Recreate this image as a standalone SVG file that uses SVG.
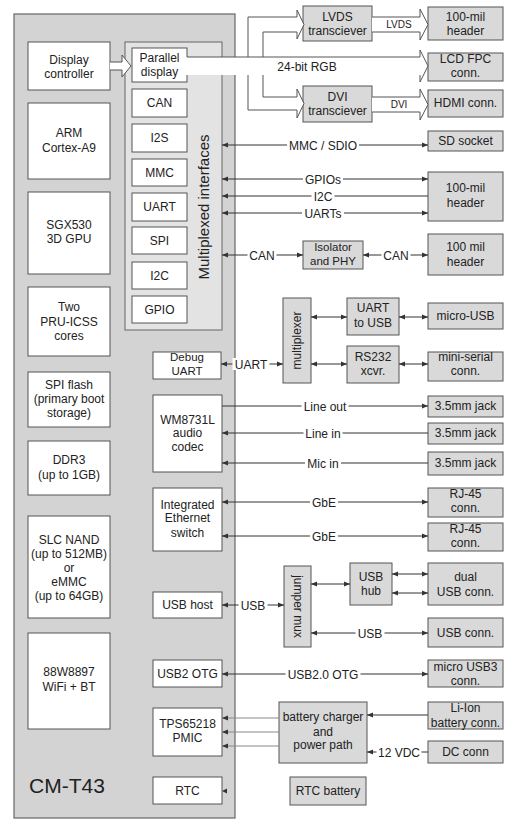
<svg xmlns="http://www.w3.org/2000/svg" width="525" height="839" viewBox="0 0 525 839">
<style>
.panel{fill:#d3d3d3;stroke:#666;stroke-width:1.2}
.mux{fill:#e3e3e3;stroke:#666;stroke-width:1}
.wb{fill:#fff;stroke:#555;stroke-width:1}
.gb{fill:#d9d9d9;stroke:#555;stroke-width:1}
text{font-family:"Liberation Sans",Arial,sans-serif;font-size:12px;fill:#222;text-anchor:middle}
.s{font-size:11.5px}
.lbl{font-size:12px}
.bg{fill:#fff;stroke:none}
.c{stroke:#333;stroke-width:1;fill:none}
.g{stroke:#888}
.bus{fill:#fff;stroke:none}
.busl{fill:none;stroke:#555;stroke-width:1}
</style>
<defs>
<marker id="ah" viewBox="0 0 6 6" refX="6" refY="3" markerWidth="6" markerHeight="6" markerUnits="userSpaceOnUse" orient="auto-start-reverse"><path d="M0,0.6 L6,3 L0,5.4z" fill="#333"/></marker>
</defs>
<rect width="525" height="839" fill="#fff"/>

<g id="cm-t43"><rect class="panel" x="14" y="14" width="221" height="804"/><text x="67" y="793" style="font-size:21px">CM-T43</text></g>
<g id="mux-panel"><rect class="mux" x="125" y="42" width="97" height="288"/><text transform="translate(209,207) rotate(-90)" style="font-size:15px">Multiplexed interfaces</text></g>

<g id="display-controller"><rect class="wb" x="28" y="42" width="82" height="48"/><text x="69" y="64">Display</text><text x="69" y="78">controller</text></g>
<g id="arm"><rect class="wb" x="28" y="103" width="82" height="76"/><text x="69" y="137">ARM</text><text x="69" y="152">Cortex-A9</text></g>
<g id="sgx"><rect class="wb" x="28" y="192" width="82" height="82"/><text x="69" y="229">SGX530</text><text x="69" y="243">3D GPU</text></g>
<g id="pru"><rect class="wb" x="28" y="287" width="82" height="69"/><text x="69" y="311">Two</text><text x="69" y="326">PRU-ICSS</text><text x="69" y="340">cores</text></g>
<g id="spi-flash"><rect class="wb" x="28" y="372" width="82" height="55"/><text x="69" y="389">SPI flash</text><text x="69" y="403">(primary boot</text><text x="69" y="417">storage)</text></g>
<g id="ddr3"><rect class="wb" x="28" y="441" width="82" height="54"/><text x="69" y="464">DDR3</text><text x="69" y="479">(up to 1GB)</text></g>
<g id="nand"><rect class="wb" x="28" y="516" width="82" height="102"/><text x="69" y="544">SLC NAND</text><text x="69" y="558">(up to 512MB)</text><text x="69" y="572">or</text><text x="69" y="586">eMMC</text><text x="69" y="600">(up to 64GB)</text></g>
<g id="wifi"><rect class="wb" x="28" y="633" width="82" height="96"/><text x="69" y="676">88W8897</text><text x="69" y="691">WiFi + BT</text></g>

<g id="parallel-display"><rect class="wb" x="132" y="48" width="55" height="34"/><text x="159.5" y="62">Parallel</text><text x="159.5" y="76">display</text></g>
<g id="can"><rect class="wb" x="132" y="89" width="55" height="28"/><text x="159.5" y="107">CAN</text></g>
<g id="i2s"><rect class="wb" x="132" y="124" width="55" height="28"/><text x="159.5" y="142">I2S</text></g>
<g id="mmc"><rect class="wb" x="132" y="159" width="55" height="27"/><text x="159.5" y="177">MMC</text></g>
<g id="uart"><rect class="wb" x="132" y="193" width="55" height="28"/><text x="159.5" y="211">UART</text></g>
<g id="spi"><rect class="wb" x="132" y="227" width="55" height="27"/><text x="159.5" y="245">SPI</text></g>
<g id="i2c"><rect class="wb" x="132" y="262" width="55" height="27"/><text x="159.5" y="280">I2C</text></g>
<g id="gpio"><rect class="wb" x="132" y="296" width="55" height="27"/><text x="159.5" y="314">GPIO</text></g>

<g id="debug-uart"><rect class="wb" x="153" y="352" width="68" height="27"/><text class="s" x="187" y="361">Debug</text><text class="s" x="187" y="375">UART</text></g>
<g id="codec"><rect class="wb" x="153" y="395" width="69" height="77"/><text x="187.5" y="424">WM8731L</text><text x="187.5" y="437">audio</text><text x="187.5" y="451">codec</text></g>
<g id="eth-switch"><rect class="wb" x="153" y="488" width="69" height="63"/><text x="187.5" y="509">Integrated</text><text x="187.5" y="522">Ethernet</text><text x="187.5" y="537">switch</text></g>
<g id="usb-host"><rect class="wb" x="153" y="592" width="69" height="26"/><text x="187.5" y="609">USB host</text></g>
<g id="usb2-otg"><rect class="wb" x="153" y="660" width="69" height="27"/><text x="187.5" y="678">USB2 OTG</text></g>
<g id="pmic"><rect class="wb" x="153" y="708" width="69" height="48"/><text x="187.5" y="728">TPS65218</text><text x="187.5" y="742">PMIC</text></g>
<g id="rtc"><rect class="wb" x="153" y="777" width="69" height="27"/><text x="187.5" y="795">RTC</text></g>

<g id="lvds-tx"><rect class="gb" x="303" y="6" width="69" height="35"/><text x="337.5" y="21">LVDS</text><text x="337.5" y="35">transciever</text></g>
<g id="dvi-tx"><rect class="gb" x="303" y="86" width="69" height="36"/><text x="337.5" y="101">DVI</text><text x="337.5" y="115">transciever</text></g>
<g id="isolator"><rect class="gb" x="303" y="241" width="60" height="28"/><text class="s" x="333" y="251">Isolator</text><text class="s" x="333" y="265">and PHY</text></g>
<g id="multiplexer"><rect class="gb" x="283" y="298" width="28" height="85"/><text transform="translate(301,340.5) rotate(-90)">multiplexer</text></g>
<g id="uart-usb"><rect class="gb" x="347" y="298" width="52" height="37"/><text x="373" y="312">UART</text><text x="373" y="327">to USB</text></g>
<g id="rs232"><rect class="gb" x="347" y="346" width="52" height="37"/><text x="373" y="361">RS232</text><text x="373" y="375">xcvr.</text></g>
<g id="jumper-mux"><rect class="gb" x="284" y="566" width="27" height="81"/><text transform="translate(294,606.5) rotate(90)">jumper mux</text></g>
<g id="usb-hub"><rect class="gb" x="350" y="563" width="42" height="42"/><text x="371" y="581">USB</text><text x="371" y="595">hub</text></g>
<g id="charger"><rect class="gb" x="279" y="702" width="88" height="61"/><text x="323" y="721">battery charger</text><text x="323" y="736">and</text><text x="323" y="749">power path</text></g>
<g id="rtc-battery"><rect class="gb" x="290" y="777" width="76" height="28"/><text x="328" y="795">RTC battery</text></g>

<g id="hdr-lvds"><rect class="gb" x="428" y="7" width="75" height="33"/><text x="465.5" y="21">100-mil</text><text x="465.5" y="35">header</text></g>
<g id="lcd-fpc"><rect class="gb" x="428" y="53" width="75" height="28"/><text x="465.5" y="63">LCD FPC</text><text x="465.5" y="77">conn.</text></g>
<g id="hdmi"><rect class="gb" x="428" y="90" width="75" height="27"/><text x="465.5" y="107">HDMI conn.</text></g>
<g id="sd-socket"><rect class="gb" x="428" y="131" width="75" height="20"/><text x="465.5" y="145">SD socket</text></g>
<g id="hdr-gpio"><rect class="gb" x="428" y="172" width="75" height="49"/><text x="465.5" y="192">100-mil</text><text x="465.5" y="207">header</text></g>
<g id="hdr-can"><rect class="gb" x="428" y="234" width="75" height="41"/><text x="465.5" y="251">100 mil</text><text x="465.5" y="266">header</text></g>
<g id="micro-usb"><rect class="gb" x="428" y="303" width="75" height="26"/><text x="465.5" y="320">micro-USB</text></g>
<g id="mini-serial"><rect class="gb" x="428" y="352" width="75" height="29"/><text x="465.5" y="361">mini-serial</text><text x="465.5" y="375">conn.</text></g>
<g id="jack-out"><rect class="gb" x="428" y="396" width="75" height="21"/><text x="465.5" y="410">3.5mm jack</text></g>
<g id="jack-in"><rect class="gb" x="428" y="423" width="75" height="21"/><text x="465.5" y="437">3.5mm jack</text></g>
<g id="jack-mic"><rect class="gb" x="428" y="452" width="75" height="23"/><text x="465.5" y="467">3.5mm jack</text></g>
<g id="rj45-1"><rect class="gb" x="428" y="488" width="75" height="29"/><text x="465.5" y="498">RJ-45</text><text x="465.5" y="512">conn.</text></g>
<g id="rj45-2"><rect class="gb" x="428" y="523" width="75" height="28"/><text x="465.5" y="533">RJ-45</text><text x="465.5" y="547">conn.</text></g>
<g id="dual-usb"><rect class="gb" x="428" y="563" width="75" height="42"/><text x="465.5" y="581">dual</text><text x="465.5" y="596">USB conn.</text></g>
<g id="usb-conn"><rect class="gb" x="428" y="618" width="75" height="29"/><text x="465.5" y="637">USB conn.</text></g>
<g id="micro-usb3"><rect class="gb" x="428" y="660" width="75" height="27"/><text x="465.5" y="671">micro USB3</text><text x="465.5" y="685">conn.</text></g>
<g id="li-ion"><rect class="gb" x="428" y="702" width="75" height="27"/><text x="465.5" y="712">Li-Ion</text><text x="465.5" y="727">battery conn.</text></g>
<g id="dc-conn"><rect class="gb" x="428" y="741" width="75" height="22"/><text x="465.5" y="756">DC conn</text></g>

<g id="connectors">
<path class="bus" d="M110,62 H122 V55 L131,66 L122,77 V70 H110 Z"/>
<path class="busl" d="M110,62 H122 V55 L131,66 L122,77 V70 H110"/>
<rect class="bus" x="186" y="57" width="234" height="18"/>
<path class="bus" d="M248,57 V17 H297 V10 L304,24.5 L297,39 V32 H263 V57 Z"/>
<path class="bus" d="M248,75 V110 H297 V118 L304,103.5 L297,89 V97 H263 V75 Z"/>
<path class="bus" d="M420,50 L428,66 L420,82 Z"/>
<path class="busl" d="M187,57 H420 V50 L428,66 L420,82 V75"/>
<path class="busl" d="M248,57 V17 H297 V10 L304,24.5 L297,39 V32 H263 V57"/>
<path class="busl" d="M248,75 V110 H297 V118 L304,103.5 L297,89 V97 H263 V75"/>
<path class="bus" d="M372,17 H420 V9 L428,24.5 L420,40 V32 H372 Z"/>
<path class="busl" d="M372,17 H420 V9 L428,24.5 L420,40 V32 H372"/>
<path class="bus" d="M372,97 H420 V89 L428,104.5 L420,120 V112 H372 Z"/>
<path class="busl" d="M372,97 H420 V89 L428,104.5 L420,120 V112 H372"/>
<text x="307" y="71">24-bit RGB</text>
<text x="399" y="28" style="font-size:10px">LVDS</text>
<text x="399" y="108" style="font-size:10px">DVI</text>

<line class="c" x1="222" y1="145" x2="428" y2="145" marker-start="url(#ah)" marker-end="url(#ah)"/>
<rect class="bg" x="287" y="139" width="72" height="12"/><text class="lbl" x="323" y="149.5">MMC / SDIO</text>
<line class="c" x1="222" y1="179" x2="428" y2="179" marker-start="url(#ah)" marker-end="url(#ah)"/>
<rect class="bg" x="303" y="173" width="40" height="12"/><text class="lbl" x="323" y="183.5">GPIOs</text>
<line class="c" x1="222" y1="196" x2="428" y2="196" marker-start="url(#ah)"/>
<rect class="bg" x="311.5" y="190" width="23" height="12"/><text class="lbl" x="323" y="200.5">I2C</text>
<line class="c" x1="222" y1="213" x2="428" y2="213" marker-start="url(#ah)" marker-end="url(#ah)"/>
<rect class="bg" x="302" y="207" width="42" height="12"/><text class="lbl" x="323" y="217.5">UARTs</text>
<line class="c" x1="222" y1="255" x2="303" y2="255" marker-start="url(#ah)" marker-end="url(#ah)"/>
<rect class="bg" x="247.5" y="249" width="29" height="12"/><text class="lbl" x="262" y="259.5">CAN</text>
<line class="c" x1="363" y1="255" x2="428" y2="255" marker-start="url(#ah)" marker-end="url(#ah)"/>
<rect class="bg" x="381.5" y="249" width="29" height="12"/><text class="lbl" x="396" y="259.5">CAN</text>
<line class="c" x1="221" y1="364" x2="283" y2="364" marker-start="url(#ah)" marker-end="url(#ah)"/>
<rect class="bg" x="232.5" y="358" width="37" height="12"/><text class="lbl" x="251" y="368.5">UART</text>
<line class="c" x1="311" y1="317" x2="347" y2="317" marker-start="url(#ah)" marker-end="url(#ah)"/>
<line class="c" x1="399" y1="317" x2="428" y2="317" marker-start="url(#ah)" marker-end="url(#ah)"/>
<line class="c" x1="311" y1="364" x2="347" y2="364" marker-start="url(#ah)" marker-end="url(#ah)"/>
<line class="c" x1="399" y1="364" x2="428" y2="364" marker-start="url(#ah)" marker-end="url(#ah)"/>
<line class="c" x1="222" y1="406" x2="428" y2="406" marker-end="url(#ah)"/>
<rect class="bg" x="301.5" y="400" width="47" height="12"/><text class="lbl" x="325" y="410.5">Line out</text>
<line class="c" x1="222" y1="433" x2="428" y2="433" marker-start="url(#ah)"/>
<rect class="bg" x="303.5" y="427" width="39" height="12"/><text class="lbl" x="323" y="437.5">Line in</text>
<line class="c" x1="222" y1="463" x2="428" y2="463" marker-start="url(#ah)"/>
<rect class="bg" x="305" y="457" width="36" height="12"/><text class="lbl" x="323" y="467.5">Mic in</text>
<line class="c" x1="222" y1="502" x2="428" y2="502" marker-start="url(#ah)" marker-end="url(#ah)"/>
<rect class="bg" x="310" y="496" width="28" height="12"/><text class="lbl" x="324" y="506.5">GbE</text>
<line class="c" x1="222" y1="536" x2="428" y2="536" marker-start="url(#ah)" marker-end="url(#ah)"/>
<rect class="bg" x="310" y="530" width="28" height="12"/><text class="lbl" x="324" y="540.5">GbE</text>
<line class="c" x1="222" y1="605" x2="284" y2="605" marker-start="url(#ah)" marker-end="url(#ah)"/>
<rect class="bg" x="238.5" y="599" width="29" height="12"/><text class="lbl" x="253" y="609.5">USB</text>
<line class="c" x1="311" y1="584" x2="350" y2="584" marker-start="url(#ah)" marker-end="url(#ah)"/>
<line class="c" x1="392" y1="574" x2="428" y2="574" marker-start="url(#ah)" marker-end="url(#ah)"/>
<line class="c" x1="392" y1="593" x2="428" y2="593" marker-start="url(#ah)" marker-end="url(#ah)"/>
<line class="c" x1="311" y1="633" x2="428" y2="633" marker-start="url(#ah)" marker-end="url(#ah)"/>
<rect class="bg" x="355.5" y="627" width="29" height="12"/><text class="lbl" x="370" y="637.5">USB</text>
<line class="c" x1="222" y1="674" x2="428" y2="674" marker-start="url(#ah)" marker-end="url(#ah)"/>
<rect class="bg" x="285.5" y="668" width="75" height="12"/><text class="lbl" x="323" y="678.5">USB2.0 OTG</text>
<line class="c g" x1="222" y1="718" x2="279" y2="718" marker-start="url(#ah)"/>
<line class="c g" x1="222" y1="732" x2="279" y2="732" marker-start="url(#ah)"/>
<line class="c g" x1="222" y1="746" x2="279" y2="746" marker-start="url(#ah)"/>
<line class="c" x1="428" y1="715" x2="367" y2="715" marker-end="url(#ah)"/>
<line class="c" x1="428" y1="752" x2="367" y2="752" marker-end="url(#ah)"/>
<rect class="bg" x="376.5" y="746" width="45" height="12"/><text class="lbl" x="399" y="756.5">12 VDC</text>
<path d="M222,791 L227,788.6 L227,793.4 Z" fill="#333"/>
</g>
</svg>
